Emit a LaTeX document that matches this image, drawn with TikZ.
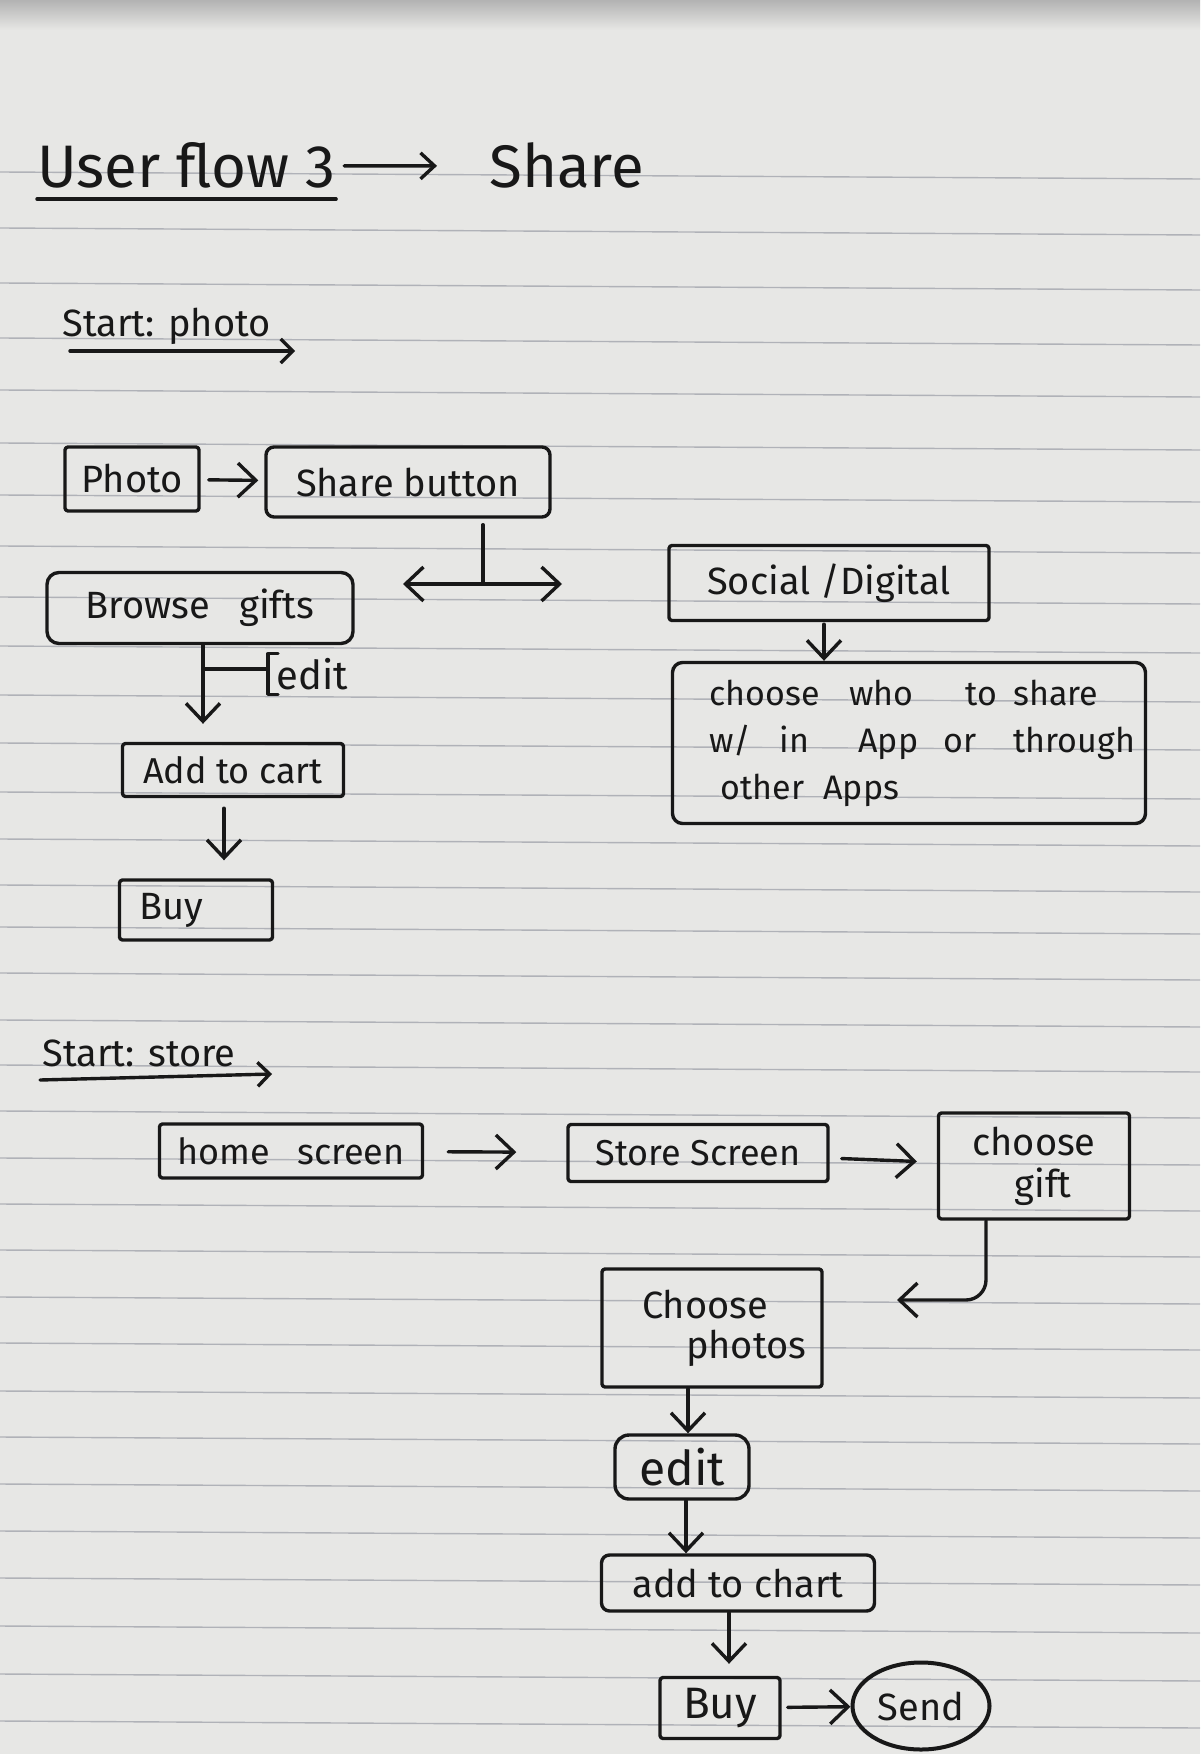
\documentclass[tikz,border=0pt]{standalone}
\usepackage{fontspec}
\setmainfont{Fira Sans}
\usetikzlibrary{arrows.meta,shapes.geometric,calc}
\definecolor{paper}{RGB}{231,231,229}
\definecolor{rulec}{RGB}{176,178,184}
\definecolor{ink}{RGB}{24,24,24}
\begin{document}
\begin{tikzpicture}[x=0.5pt,y=-0.5pt,
  pen/.style={draw=ink,line width=1.7pt,line cap=round,line join=round},
  box/.style={pen,rounded corners=1.5pt,inner sep=0pt,text=ink,
    font=\fontsize{19}{23}\selectfont},
  lbl/.style={inner sep=0pt,text=ink,font=\fontsize{19}{22}\selectfont},
  arr/.style={pen,-{Straight Barb[length=9pt,width=17pt]}},
  dblarr/.style={pen,{Straight Barb[length=9pt,width=17pt]}-{Straight Barb[length=9pt,width=17pt]}},
  ruling/.style={draw=rulec,line width=0.7pt}
]
\useasboundingbox (0,0) rectangle (1200,1754);
% paper and its ruled lines
\fill[paper] (0,0) rectangle (1200,1754);
\shade[top color=black!30,bottom color=paper] (0,0) rectangle (1200,30);
\foreach \a in {172,228,283,338,390,443,495,546,597,646,695,743,792,839,885,927,973,1020,1065,1111,1158,1204,1250,1297,1343,1391,1437,1484,1531,1578,1626,1674,1721}
  \draw[ruling] (0,\a) -- (1200,{\a+7});

% heading
\node[lbl,anchor=base west,font=\fontsize{30}{36}\selectfont] (ttl) at (37,188) {User flow 3};
\node[lbl,anchor=base west,font=\fontsize{30}{36}\selectfont] (ttlshare) at (489,188) {Share};
\draw[pen,-{Straight Barb[length=7pt,width=13pt]},shorten <=4pt,shorten >=26pt] (ttl.east) -- (ttlshare.west);
\draw[pen] ([yshift=-5pt]ttl.south west) -- ([yshift=-5pt]ttl.south east);

% flow starting from a photo
\node[lbl,anchor=base west] (st1) at (62,337) {Start: photo};
\draw[pen,-{Straight Barb[length=6pt,width=12pt]}] ([shift={(4pt,-7pt)}]st1.base west) -- ([shift={(12pt,-7pt)}]st1.base east);

\node[box,minimum width=67pt,minimum height=32pt] (photo) at (132,479) {Photo};
\node[box,minimum width=142pt,minimum height=35pt,rounded corners=4pt] (sharebtn) at (408,482) {Share button};
\node[box,minimum width=153pt,minimum height=35.5pt,rounded corners=6pt] (browse) at (200,608) {Browse\hspace{0.5em} gifts};
\node[box,minimum width=110.5pt,minimum height=26.5pt,font=\fontsize{18}{22}\selectfont] (addcart) at (233,770) {Add to cart};
\node[box,minimum height=30pt,text width=56.5pt,inner xsep=10pt,align=left] (buya) at (196,910) {Buy};
\node[box,minimum width=160pt,minimum height=37.5pt] (social) at (829,583) {Social /Digital};
\node[box,minimum height=80.5pt,rounded corners=5pt,text width=199.5pt,inner xsep=18.5pt,align=left,
  font=\fontsize{17}{23.5}\selectfont] (choosewho) at (909,743)
  {\makebox[70pt][l]{choose}\makebox[58pt][l]{who}\makebox[24pt][l]{to}share\\
   \makebox[35pt][l]{w/}\makebox[39.5pt][l]{in}\makebox[42.5pt][l]{App}\makebox[35pt][l]{or}through\\
   \hspace*{5.5pt}\makebox[51.5pt][l]{other}Apps};

\draw[arr,shorten <=4pt,shorten >=3pt] (photo) -- (sharebtn);
\coordinate (fork) at (483,584);
\coordinate (forkl) at (403,584);
\coordinate (forkr) at (562,584);
\draw[pen,shorten <=3pt] (fork |- sharebtn.south) -- (fork);
\draw[dblarr] (forkl) -- (forkr);

\coordinate (edj) at (203,669);
\draw[arr,shorten >=9pt] (edj |- browse.south) -- (edj |- addcart.north);
\coordinate (brk) at (268,669);
\node[lbl,anchor=west,inner ysep=2pt,font=\fontsize{20}{24}\selectfont] (editlbl) at (276,674) {edit};
\draw[pen] (edj) -- (brk);
\draw[pen] ([xshift=1pt]editlbl.north west) -| (brk) |- ([xshift=1pt]editlbl.south west);

\coordinate (acx) at (224,820);
\draw[arr,shorten <=5pt,shorten >=9pt] (acx |- addcart.south) -- (acx |- buya.north);
\coordinate (sdx) at (824,640);
\draw[arr,shorten <=1pt] (sdx |- social.south) -- (sdx |- choosewho.north);

% flow starting from the store
\node[lbl,anchor=base west] (st2) at (42,1066) {Start: store};
\draw[pen,-{Straight Barb[length=6pt,width=12pt]}] ([shift={(-1pt,-7pt)}]st2.base west) -- ([shift={(18pt,-4pt)}]st2.base east);

\node[box,minimum width=131.5pt,minimum height=27pt,font=\fontsize{18}{22}\selectfont] (home) at (291,1151) {home\hspace{0.5em} screen};
\node[box,minimum width=130pt,minimum height=28.5pt,font=\fontsize{18}{22}\selectfont] (store) at (698,1153) {Store Screen};
\node[box,minimum width=95.5pt,minimum height=53pt,align=center,font=\fontsize{19}{21}\selectfont] (gift) at (1034,1166) {choose\\\hspace*{9pt}gift};
\node[box,minimum height=59pt,text width=70pt,inner xsep=20pt,align=left,font=\fontsize{19}{20}\selectfont] (photos) at (712,1328) {Choose\\\hspace*{22pt}\mbox{photos}};
\node[box,minimum width=67pt,minimum height=32pt,rounded corners=7pt,font=\fontsize{24}{26}\selectfont] (editb) at (682,1467) {edit};
\node[box,minimum width=136.5pt,minimum height=28pt,rounded corners=4pt] (addchart) at (738,1583) {add to chart};
\node[box,minimum width=60pt,minimum height=30.5pt,font=\fontsize{22}{26}\selectfont] (buyb) at (720,1708) {Buy};
\node[box,ellipse,line width=2pt,minimum width=68.5pt,minimum height=43.5pt] (send) at (921,1706) {Send};

\draw[arr,shorten <=12pt,shorten >=25pt] (home) -- (store);
\draw[arr,shorten <=6pt,shorten >=10pt] (store) -- (gift);
\coordinate (gx) at (986,1250);
\coordinate (gtip) at (897,1300);
\draw[arr,rounded corners=10pt] (gx |- gift.south) |- (gtip);
\coordinate (pex) at (688,1400);
\draw[arr] (pex |- photos.south) -- (pex |- editb.north);
\coordinate (eax) at (686,1520);
\draw[arr] (eax |- editb.south) -- (eax |- addchart.north);
\coordinate (abx) at (729,1640);
\draw[arr,shorten >=6pt] (abx |- addchart.south) -- (abx |- buyb.north);
\draw[arr,shorten <=3pt] (buyb) -- (send);
\end{tikzpicture}
\end{document}
